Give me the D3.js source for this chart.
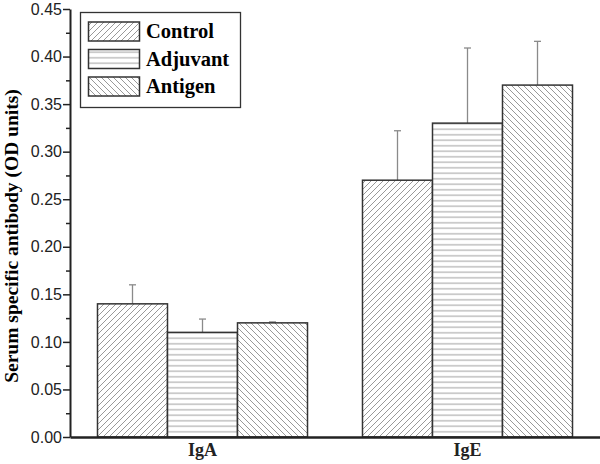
<!DOCTYPE html>
<html>
<head>
<meta charset="utf-8">
<script src="https://cdn.jsdelivr.net/npm/d3@7"></script>
<style>
body{margin:0;background:#fff;}
.tick text{font-family:"Liberation Sans",Arial,sans-serif;font-size:16px;fill:#222;}
</style>
</head>
<body>
<div id="chart"></div>
<script>
var categories = ["IgA", "IgE"];
var series = ["Control", "Adjuvant", "Antigen"];
var controlVals = [0.14, 0.27];
var adjuvantVals = [0.11, 0.33];
var antigenVals = [0.12, 0.37];
var controlErr = [0.02, 0.052];
var adjuvantErr = [0.014, 0.079];
var antigenErr = [0.001, 0.046];
var yTicks = [0, 0.05, 0.10, 0.15, 0.20, 0.25, 0.30, 0.35, 0.40, 0.45];

var W = 600, H = 464;
var mLeft = 70, mRight = 600, mTop = 9, mBottom = 437;

var svg = d3.select("#chart").append("svg")
    .attr("width", W).attr("height", H);

// hatch patterns
var defs = svg.append("defs");
var pats = ["fwd", "hor", "back"];
function hatch(id, d, w, h){
    var p = defs.append("pattern")
        .attr("id", id)
        .attr("patternUnits", "userSpaceOnUse")
        .attr("width", w).attr("height", h);
    p.append("rect").attr("width", w).attr("height", h).attr("fill", "#fff");
    p.append("path").attr("d", d)
        .attr("stroke", "#777").attr("stroke-width", 0.75).attr("fill", "none");
}
hatch("fwd", "M-1,1 L1,-1 M0,6 L6,0 M5,7 L7,5", 6, 6);
hatch("hor", "M0,2.75 L6,2.75", 6, 5.5);
hatch("back", "M-1,5 L1,7 M0,0 L6,6 M5,-1 L7,1", 6, 6);

var y = d3.scaleLinear().domain([0, 0.45]).range([mBottom, mTop]);
var x = d3.scaleBand().domain(categories).range([mLeft, mRight])
    .paddingInner(0.2075).paddingOuter(0.10375);
var xs = d3.scaleBand().domain(series).range([0, x.bandwidth()]);

var vals = [controlVals, adjuvantVals, antigenVals];
var errs = [controlErr, adjuvantErr, antigenErr];

var rows = [];
series.forEach(function(s, si){
    categories.forEach(function(c, ci){
        rows.push({s: s, si: si, c: c, v: vals[si][ci], e: errs[si][ci]});
    });
});

// error bars (upper only)
var eb = svg.append("g");
rows.forEach(function(r){
    var cx = x(r.c) + xs(r.s) + xs.bandwidth() / 2;
    eb.append("line")
        .attr("x1", cx).attr("x2", cx)
        .attr("y1", y(r.v)).attr("y2", y(r.v + r.e))
        .attr("stroke", "#8a8a8a").attr("stroke-width", 1.3);
    eb.append("line")
        .attr("x1", cx - 3.5).attr("x2", cx + 3.5)
        .attr("y1", y(r.v + r.e)).attr("y2", y(r.v + r.e))
        .attr("stroke", "#8a8a8a").attr("stroke-width", 1.3);
});

// bars
svg.append("g").selectAll("rect").data(rows).enter().append("rect")
    .attr("x", function(d){ return x(d.c) + xs(d.s); })
    .attr("y", function(d){ return y(d.v); })
    .attr("width", xs.bandwidth())
    .attr("height", function(d){ return y(0) - y(d.v); })
    .attr("fill", function(d){ return "url(#" + pats[d.si] + ")"; })
    .attr("stroke", "#333").attr("stroke-width", 1.5);

// y axis with minor ticks
var minor = d3.range(0.025, 0.45, 0.05);
svg.append("g")
    .attr("transform", "translate(" + mLeft + ",0)")
    .call(d3.axisLeft(y).tickValues(minor).tickSize(4).tickFormat(""))
    .call(function(g){ g.select(".domain").remove(); })
    .selectAll("line").attr("stroke", "#222").attr("stroke-width", 1.5);

var ya = svg.append("g")
    .attr("transform", "translate(" + mLeft + ",0)")
    .call(d3.axisLeft(y).tickValues(yTicks).tickSize(7).tickSizeOuter(0)
        .tickFormat(d3.format(".2f")));
ya.select(".domain").attr("stroke", "#222").attr("stroke-width", 2);
ya.selectAll(".tick line").attr("stroke", "#222").attr("stroke-width", 1.5);
ya.selectAll(".tick text").attr("x", -8);

// x axis
var xa = svg.append("g")
    .attr("transform", "translate(0," + mBottom + ")")
    .call(d3.axisBottom(x).tickSize(0).tickSizeOuter(0));
xa.select(".domain").attr("stroke", "#222").attr("stroke-width", 2.5);
xa.selectAll(".tick text")
    .attr("y", 6)
    .style("font-family", "'Liberation Serif','Times New Roman',serif")
    .style("font-weight", "bold").style("font-size", "18px");

// y label
svg.append("text")
    .attr("transform", "translate(18,236) rotate(-90)")
    .attr("text-anchor", "middle")
    .style("font-family", "'Liberation Serif','Times New Roman',serif")
    .style("font-weight", "bold").style("font-size", "19.5px")
    .text("Serum specific antibody (OD units)");

// legend
var lg = svg.append("g");
lg.append("rect")
    .attr("x", 80.5).attr("y", 12.5).attr("width", 160).attr("height", 95)
    .attr("fill", "#fff").attr("stroke", "#333").attr("stroke-width", 1.3);
series.forEach(function(s, i){
    var yy = 22 + i * 27.5;
    lg.append("rect")
        .attr("x", 88.5).attr("y", yy).attr("width", 51).attr("height", 19)
        .attr("fill", "url(#" + pats[i] + ")")
        .attr("stroke", "#333").attr("stroke-width", 1.5);
    lg.append("text")
        .attr("x", 146).attr("y", yy + 16)
        .style("font-family", "'Liberation Serif','Times New Roman',serif")
        .style("font-weight", "bold").style("font-size", "20.5px")
        .text(s);
});
</script>
</body>
</html>
